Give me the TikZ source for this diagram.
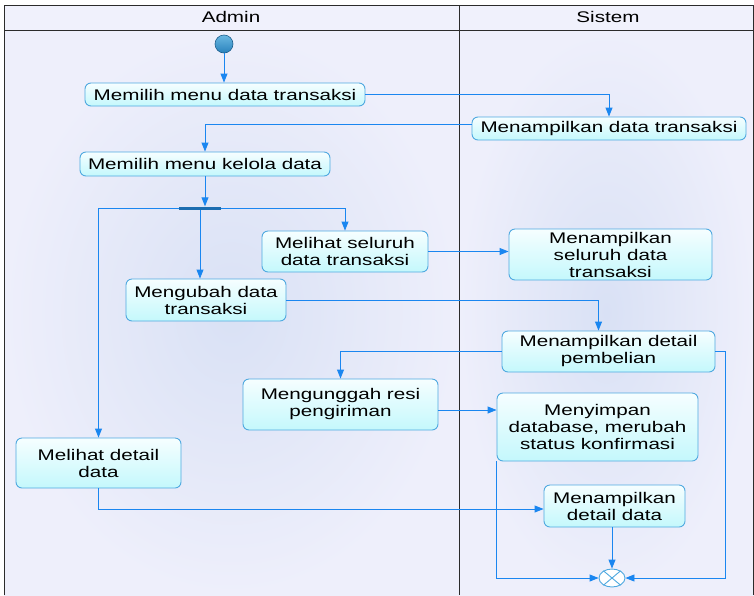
\documentclass[tikz,border=0pt]{standalone}
\usepackage{fontspec}
\setmainfont{Liberation Sans}[FakeStretch=1.34]
\usetikzlibrary{arrows.meta,shapes.geometric,calc}

\definecolor{laneback}{HTML}{EEEFFB}
\definecolor{lanehaze}{HTML}{D9E1F5}
\definecolor{headback}{HTML}{F0F1FC}
\definecolor{frameline}{HTML}{2B2B2B}
\definecolor{boxtop}{HTML}{F6FEFF}
\definecolor{boxbot}{HTML}{C4F8FC}
\definecolor{boxline}{HTML}{4FA9E0}
\definecolor{flowblue}{HTML}{1A86F0}
\definecolor{barblue}{HTML}{1C6DB0}
\definecolor{balltop}{HTML}{6AB8E2}
\definecolor{ballbot}{HTML}{2A82BC}
\definecolor{ballline}{HTML}{1D5E8C}

\tikzset{
  act/.style={draw=boxline, line width=0.9pt, rounded corners=6pt,
    top color=boxtop, bottom color=boxbot, align=center, inner sep=0pt,
    font=\fontsize{15.4}{17}\selectfont},
  flow/.style={draw=flowblue, line width=0.9pt,
    -{Triangle[length=9pt,width=7pt]}},
  forkbar/.style={fill=barblue, draw=none, minimum width=42pt,
    minimum height=3pt, inner sep=0pt},
  startdot/.style={circle, minimum size=18pt, inner sep=0pt,
    draw=ballline, line width=0.6pt, top color=balltop, bottom color=ballbot},
  finaldot/.style={ellipse, minimum width=26pt, minimum height=18pt,
    inner sep=0pt, draw=boxline, line width=0.9pt, fill=white},
  lanehead/.style={font=\fontsize{15.4}{17}\selectfont}
}

\begin{document}
\begin{tikzpicture}[x=1pt,y=-1pt]
\useasboundingbox (0,0) rectangle (754,595);

% swimlane background
\fill[laneback] (4,30) rectangle (754,595);
\shade[inner color=lanehaze, outer color=laneback] (4,30) rectangle (459,595);
\shade[inner color=lanehaze, outer color=laneback] (459,30) rectangle (754,595);
\fill[headback] (4,5) rectangle (754,30);

% swimlane frame
\draw[frameline, line width=0.8pt] (4,595) -- (4,5) -- (753,5) -- (753,595);
\draw[frameline, line width=0.8pt] (4,30) -- (753,30);
\draw[frameline, line width=0.8pt] (459,5) -- (459,595);
\node[lanehead] (hadmin) at (231,17) {Admin};
\node[lanehead] (hsistem) at (608,17) {Sistem};

% activities
\node[startdot] (start) at (224,44) {};
\node[act, minimum width=280pt, minimum height=23pt] (m1) at (225,94.5) {Memilih menu data transaksi};
\node[act, minimum width=274pt, minimum height=23pt] (s1) at (609,128.5) {Menampilkan data transaksi};
\node[act, minimum width=250pt, minimum height=24pt] (m2) at (205,164) {Memilih menu kelola data};
\node[forkbar] (fork) at (200,208) {};
\node[act, minimum width=166pt, minimum height=41pt] (m3) at (345,251.5) {Melihat seluruh\\data transaksi};
\node[act, minimum width=203pt, minimum height=51pt] (s2) at (610.5,254.5) {Menampilkan\\seluruh data\\transaksi};
\node[act, minimum width=160pt, minimum height=42pt] (m4) at (206,300) {Mengubah data\\transaksi};
\node[act, minimum width=213pt, minimum height=41pt] (s3) at (608.5,351.5) {Menampilkan detail\\pembelian};
\node[act, minimum width=195pt, minimum height=51pt] (m5) at (340.5,404.5) {Mengunggah resi\\pengiriman};
\node[act, minimum width=201pt, minimum height=68pt] (s4) at (597.5,427) {Menyimpan\\database, merubah\\status konfirmasi};
\node[act, minimum width=165pt, minimum height=50pt] (m6) at (98.5,463) {Melihat detail\\data};
\node[act, minimum width=141pt, minimum height=42pt] (s5) at (614.5,506) {Menampilkan\\detail data};
\node[finaldot] (final) at (612,578) {};
\draw[boxline, line width=0.9pt] (final.40) -- (final.220) (final.140) -- (final.320);

% control flow
\draw[flow] (start.south) -- (start.south |- m1.north);
\draw[flow] (m1.east) -| (s1.north);
\draw[flow] ([yshift=4pt]s1.west) -| (m2.north);
\draw[flow] (m2.south) -- (m2.south |- fork.north);
\draw[flow] (fork.west) -| (m6.north);
\draw[flow] (fork.east) -| (m3.north);
\draw[flow] (fork.south) -- (fork.south |- m4.north);
\draw[flow] (m3.east) -- (m3.east -| s2.west);
\draw[flow] (m4.east) -| ([xshift=-10pt]s3.north);
\draw[flow] (s3.west) -| (m5.north);
\draw[flow] ([yshift=-5.5pt]m5.east) -- ([yshift=-5.5pt]m5.east -| s4.west);
\draw[flow] (m6.south) |- ([yshift=-3pt]s5.west);
\draw[flow] (s5.south -| final.north) -- (final.north);
\draw[flow] (s4.south west) |- (final.west);
\draw[flow] (s3.east) -- ++(10,0) |- (final.east);
\end{tikzpicture}
\end{document}
